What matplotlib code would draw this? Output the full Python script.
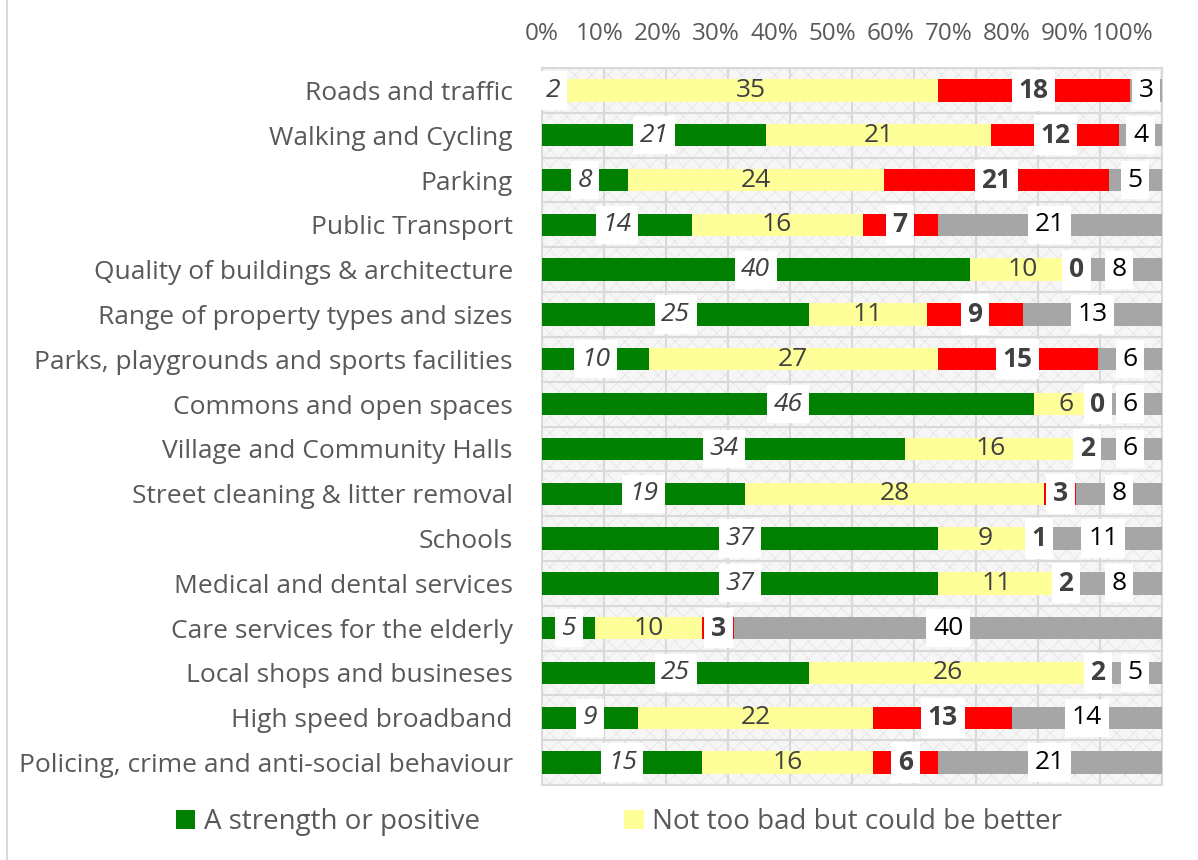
import numpy as np
import matplotlib
matplotlib.use("Agg")
import matplotlib.pyplot as plt
from matplotlib.lines import Line2D
from matplotlib.patches import Rectangle

plt.rcParams["font.family"] = ["Open Sans", "DejaVu Sans"]
plt.rcParams["hatch.linewidth"] = 0.5

# survey answers per topic (counts, every row sums to 58)
categories = [
    "Roads and traffic",
    "Walking and Cycling",
    "Parking",
    "Public Transport",
    "Quality of buildings & architecture",
    "Range of property types and sizes",
    "Parks, playgrounds and sports facilities",
    "Commons and open spaces",
    "Village and Community Halls",
    "Street cleaning & litter removal",
    "Schools",
    "Medical and dental services",
    "Care services for the elderly",
    "Local shops and busineses",
    "High speed broadband",
    "Policing, crime and anti-social behaviour",
]
strength = [2, 21, 8, 14, 40, 25, 10, 46, 34, 19, 37, 37, 5, 25, 9, 15]
could_be_better = [35, 21, 24, 16, 10, 11, 27, 6, 16, 28, 9, 11, 10, 26, 22, 16]
weakness = [18, 12, 21, 7, 0, 9, 15, 0, 2, 3, 1, 2, 3, 2, 13, 6]
dont_know = [3, 4, 5, 21, 8, 13, 6, 6, 6, 8, 11, 8, 40, 5, 14, 21]

series_names = ["A strength or positive", "Not too bad but could be better",
                "A weakness or negative", "Don't know"]
tick_labels = ["0%", "10%", "20%", "30%", "40%", "50%", "60%", "70%", "80%", "90%", "100%"]

colors = ["#008000", "#FFFF99", "#FF0000", "#A6A6A6"]
label_styles = [
    dict(color="#404040", style="italic", boxed=True),
    dict(color="#404040", style="normal", boxed=False),
    dict(color="#404040", weight="bold", boxed=True),
    dict(color="#000000", style="normal", boxed=True),
]
FS = 19

counts = np.array([strength, could_be_better, weakness, dont_know], dtype=float)
shares = counts / counts.sum(axis=0)

fig = plt.figure(figsize=(11.98, 8.6), dpi=100)
ax = fig.add_axes([542 / 1198, 1 - 785 / 860, 620 / 1198, 717 / 860])

y = np.arange(len(categories))
left = np.zeros(len(categories))
containers = []
for i in range(4):
    bars = ax.barh(y, shares[i], left=left, height=0.5, color=colors[i],
                   edgecolor="none", zorder=3, label=series_names[i])
    containers.append(bars)
    st = dict(label_styles[i])
    boxed = st.pop("boxed")
    for k, b in enumerate(bars):
        cx = left[k] + shares[i][k] / 2
        kw = dict(ha="center", va="center", fontsize=FS, zorder=5, **st)
        if boxed:
            kw["bbox"] = dict(boxstyle="square,pad=0.25", fc="white", ec="none")
        ax.text(cx, k, f"{int(counts[i][k])}", **kw)
    left = left + shares[i]

ax.set_xlim(0, 1)
ax.set_ylim(len(categories) - 0.5, -0.5)

# patterned plot area background
ax.set_facecolor("white")
ax.add_patch(Rectangle((0, 0), 1, 1, transform=ax.transAxes, facecolor="#f6f6f6",
                       edgecolor="#e2e2e2", hatch="xx", linewidth=0, zorder=0))
ax.set_xticks(np.linspace(0, 1, 11), minor=True)
ax.set_yticks(np.arange(len(categories) + 1) - 0.5, minor=True)
ax.grid(True, which="minor", color="#d9d9d9", linewidth=1.5, zorder=1)

# category labels
ax.set_yticks(y)
ax.set_yticklabels(categories, fontsize=FS, color="#595959")
ax.tick_params(axis="y", which="both", length=0, pad=21)

# percentage labels on top (Excel squeezes them a bit)
ax.xaxis.tick_top()
ax.set_xticks(np.linspace(0, 0.937, 11))
ax.set_xticklabels(tick_labels, fontsize=17.5, color="#595959")
ax.tick_params(axis="x", which="both", length=0, pad=16)

for side in ["top", "right", "bottom", "left"]:
    ax.spines[side].set_color("#d9d9d9")
    ax.spines[side].set_linewidth(1.5)

# legend: only the first two entries are visible in the chart
fig.legend(handles=containers[:2], labels=series_names[:2], loc="center",
           bbox_to_anchor=(619 / 1198, 1 - 822 / 860), ncol=2, frameon=False,
           fontsize=20, labelcolor="#595959", handlelength=0.7, handleheight=0.7,
           handletextpad=0.3, columnspacing=5.2)

# chart area border on the left
fig.add_artist(Line2D([7 / 1198, 7 / 1198], [0, 1], color="#d9d9d9", linewidth=1.5,
                      transform=fig.transFigure))

fig.savefig("out.png", dpi=100)
